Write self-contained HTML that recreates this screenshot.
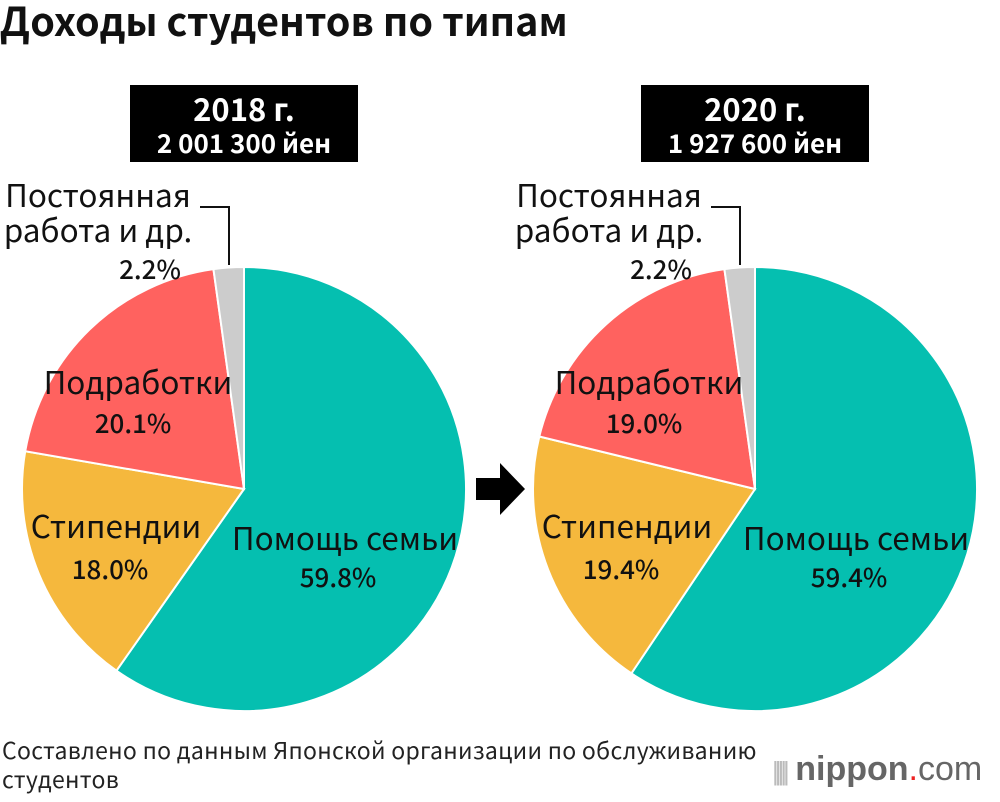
<!DOCTYPE html>
<html><head><meta charset="utf-8"><style>
body{margin:0;width:1000px;height:802px;background:#fff;font-family:"Noto Sans CJK JP","Liberation Sans",sans-serif;overflow:hidden;position:relative}
.t{position:absolute;white-space:nowrap}
</style></head><body>
<div class="t" style="left:0px;top:-9px;font-size:39.5px;font-weight:bold;color:#111;letter-spacing:0px">Доходы студентов по типам</div>
<svg id="c" width="1000" height="802" style="position:absolute;left:0;top:0"></svg>
<div class="t" style="left:2px;top:735px;font-size:23px;line-height:29px;color:#222;letter-spacing:0.3px">Составлено по данным Японской организации по обслуживанию<br>студентов</div>
<div class="t" style="left:772px;top:750px;font-size:34px;color:#666;font-family:'Liberation Sans',sans-serif"><span style="color:#bbb;font-size:26px;letter-spacing:-4px">|||||</span> <b>nippon</b><span style="color:#e22">.</span>com</div>
<script>
const years=["2018 г.","2020 г."];
const totals=["2 001 300 йен","1 927 600 йен"];
const categories=["Помощь семьи","Стипендии","Подработки","Постоянная работа и др."];
const values2018=[59.8,18.0,20.1,2.2];
const values2020=[59.4,19.4,19.0,2.2];
const colors=["#05bfb0","#f5b83d","#ff625f","#cccccc"];
const NS="http://www.w3.org/2000/svg";
const svg=document.getElementById('c');
function el(tag,attrs,parent){const e=document.createElementNS(NS,tag);for(const k in attrs)e.setAttribute(k,attrs[k]);(parent||svg).appendChild(e);return e;}
function txt(x,y,s,size,fill,weight,anchor){const e=el('text',{x:x,y:y,'font-size':size,fill:fill||'#111','font-weight':weight||'normal','text-anchor':anchor||'middle','font-family':'"Noto Sans CJK JP","Liberation Sans",sans-serif'});e.textContent=s;return e;}
function pt(cx,cy,r,frac){const a=frac*2*Math.PI;return [cx+r*Math.sin(a),cy-r*Math.cos(a)];}
function drawPie(cx,cy,r,vals,idx){
  const total=vals.reduce((a,b)=>a+b,0);let acc=0;
  vals.forEach((v,i)=>{
    const f0=acc/total,f1=(acc+v)/total;acc+=v;
    const p0=pt(cx,cy,r,f0),p1=pt(cx,cy,r,f1);const large=(f1-f0)>0.5?1:0;
    const p=el('path',{d:`M${cx},${cy}L${p0[0]},${p0[1]}A${r},${r} 0 ${large} 1 ${p1[0]},${p1[1]}Z`,fill:colors[i],stroke:'#fff','stroke-width':2});
    
    
  });
  const fmt=v=>v.toFixed(1)+'%';
  const off=cx-244;
  txt(345+off,550,categories[0],31.5);txt(338+off,587,fmt(vals[0]),26,'#111','500');
  txt(116+off,538,categories[1],31.5);txt(110+off,579,fmt(vals[1]),26,'#111','500');
  txt(138+off,394,categories[2],31.5);txt(133+off,433,fmt(vals[2]),26,'#111','500');
  txt(98+off,207,"Постоянная",31.5);txt(98+off,242,"работа и др.",31.5);txt(150+off,279,fmt(vals[3]),26,'#111','500');
  el('polyline',{points:`${200+off},207 ${229+off},207 ${229+off},265`,fill:'none',stroke:'#111','stroke-width':2});
  const bx=cx-114;
  el('rect',{x:bx,y:85,width:228,height:77,fill:'#000'});
  txt(cx,121,years[idx],31,'#fff','bold');txt(cx,153,totals[idx],26,'#fff','bold');
}
drawPie(244,489,222,values2018,0);
drawPie(755,489,222,values2020,1);
const ar=el('path',{d:'M476,478 L500,478 L500,463 L525,489 L500,515 L500,500 L476,500 Z',fill:'#000'});


</script>
</body></html>
